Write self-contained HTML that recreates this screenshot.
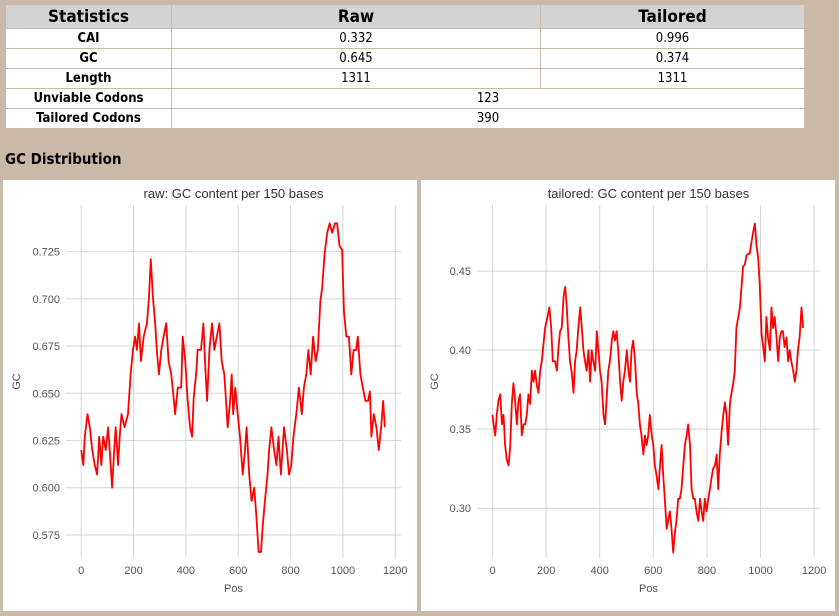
<!DOCTYPE html>
<html><head><meta charset="utf-8"><style>
body{margin:0;width:839px;height:616px;background:#cbb9a8;font-family:"Liberation Sans",sans-serif;position:relative;overflow:hidden}
table{position:absolute;left:5px;top:4px;width:800px;border-collapse:collapse;background:#fff;font-size:13px;font-family:"DejaVu Sans Condensed","DejaVu Sans","Liberation Sans",sans-serif}
td,th{border:1px solid #cbb9a8;text-align:center;padding:0;height:19px}
th{background:#d3d3d3;font-size:17px;height:23px}
td.l{font-weight:bold}
h3{position:absolute;left:5px;top:150px;margin:0;font-size:15px;font-family:"DejaVu Sans Condensed","DejaVu Sans","Liberation Sans",sans-serif}
.panel{position:absolute;top:180px;width:414px;height:431px;background:#fff}
</style></head><body>
<table>
<tr><th style="width:165px">Statistics</th><th style="width:368px">Raw</th><th>Tailored</th></tr>
<tr><td class="l">CAI</td><td>0.332</td><td>0.996</td></tr>
<tr><td class="l">GC</td><td>0.645</td><td>0.374</td></tr>
<tr><td class="l">Length</td><td>1311</td><td>1311</td></tr>
<tr><td class="l">Unviable Codons</td><td colspan="2">123</td></tr>
<tr><td class="l">Tailored Codons</td><td colspan="2">390</td></tr>
</table>
<h3>GC Distribution</h3>
<div class="panel" style="left:3px"><svg id="c1" width="414" height="431"></svg></div>
<div class="panel" style="left:421px"><svg id="c2" width="414" height="431"></svg></div>
<script>
const rawPos=[0,8,14,24,33,42,52,61,69,77,84,94,103,109,118,126,132,141,147,154,166,179,189,198,206,213,221,228,239,251,259,266,274,283,289,297,306,315,325,334,344,353,359,369,382,388,398,407,416,424,430,439,445,458,467,473,481,490,500,509,518,528,537,547,560,569,575,581,589,598,607,617,626,632,642,651,661,670,678,687,693,702,712,718,727,737,746,754,763,775,786,794,803,811,822,832,843,851,860,868,877,886,896,904,914,921,930,940,949,959,970,978,987,997,1004,1013,1023,1032,1041,1051,1057,1067,1076,1086,1096,1103,1109,1118,1128,1137,1146,1154,1160];
const rawGC=[0.620,0.612,0.627,0.639,0.632,0.620,0.612,0.607,0.627,0.612,0.627,0.620,0.632,0.620,0.600,0.620,0.632,0.612,0.627,0.639,0.632,0.639,0.660,0.673,0.680,0.673,0.687,0.667,0.680,0.687,0.701,0.721,0.701,0.687,0.673,0.660,0.673,0.680,0.687,0.667,0.660,0.648,0.639,0.653,0.653,0.680,0.667,0.646,0.632,0.627,0.648,0.660,0.673,0.673,0.687,0.667,0.646,0.673,0.687,0.673,0.680,0.687,0.667,0.660,0.632,0.646,0.660,0.639,0.653,0.639,0.627,0.607,0.620,0.632,0.607,0.593,0.600,0.584,0.566,0.566,0.579,0.593,0.607,0.620,0.632,0.620,0.612,0.627,0.607,0.632,0.620,0.607,0.612,0.627,0.639,0.653,0.639,0.653,0.660,0.673,0.660,0.680,0.667,0.673,0.699,0.706,0.724,0.735,0.740,0.735,0.740,0.740,0.728,0.726,0.694,0.680,0.680,0.660,0.673,0.673,0.680,0.660,0.653,0.646,0.646,0.651,0.627,0.639,0.632,0.620,0.632,0.646,0.632];
const tailPos=[0,4,10,16,22,29,35,41,47,53,60,66,72,78,84,91,97,103,109,116,122,128,134,140,147,153,159,165,171,178,184,190,196,205,212,219,225,233,240,246,252,258,265,271,277,283,289,296,302,308,314,320,327,333,339,345,351,358,364,370,376,383,389,395,401,407,414,420,426,432,438,445,451,457,463,469,476,482,488,494,501,507,513,519,525,532,538,544,550,556,563,569,575,581,587,594,600,606,612,619,625,631,637,643,650,656,662,668,674,681,687,693,699,705,712,718,724,730,737,743,749,755,761,768,774,780,786,792,799,805,811,817,823,830,836,842,848,855,861,867,873,879,886,892,898,904,910,917,923,929,935,941,948,954,960,966,972,979,985,991,997,1004,1010,1016,1022,1028,1035,1041,1047,1053,1059,1066,1072,1078,1084,1090,1097,1103,1109,1115,1122,1128,1134,1140,1146,1153,1159];
const tailGC=[0.359,0.353,0.346,0.359,0.368,0.372,0.353,0.359,0.340,0.331,0.327,0.339,0.366,0.379,0.368,0.353,0.368,0.372,0.346,0.353,0.353,0.359,0.372,0.366,0.387,0.380,0.387,0.378,0.373,0.387,0.393,0.404,0.414,0.421,0.427,0.414,0.393,0.393,0.387,0.402,0.412,0.414,0.434,0.440,0.427,0.408,0.393,0.385,0.373,0.393,0.400,0.414,0.427,0.414,0.400,0.393,0.387,0.400,0.380,0.400,0.393,0.387,0.412,0.400,0.387,0.380,0.359,0.353,0.370,0.387,0.393,0.406,0.412,0.406,0.412,0.400,0.380,0.368,0.380,0.387,0.400,0.387,0.380,0.400,0.406,0.393,0.373,0.366,0.353,0.346,0.334,0.346,0.340,0.346,0.359,0.346,0.340,0.327,0.321,0.312,0.327,0.340,0.321,0.306,0.287,0.293,0.298,0.287,0.272,0.285,0.293,0.306,0.306,0.312,0.327,0.340,0.346,0.353,0.340,0.312,0.306,0.306,0.298,0.292,0.306,0.298,0.292,0.306,0.298,0.306,0.312,0.319,0.325,0.327,0.334,0.312,0.334,0.349,0.359,0.367,0.359,0.340,0.367,0.373,0.379,0.387,0.414,0.421,0.427,0.440,0.453,0.454,0.460,0.461,0.461,0.468,0.474,0.480,0.466,0.459,0.442,0.410,0.402,0.393,0.421,0.408,0.400,0.427,0.414,0.421,0.410,0.393,0.408,0.412,0.412,0.402,0.408,0.393,0.400,0.393,0.387,0.380,0.387,0.400,0.408,0.427,0.414];
const xTicks=[0,200,400,600,800,1000,1200];
const rawYTicks=[0.575,0.600,0.625,0.650,0.675,0.700,0.725];
const tailYTicks=[0.30,0.35,0.40,0.45];
const NS="http://www.w3.org/2000/svg";
function mk(svg,tag,attrs,txt){const e=document.createElementNS(NS,tag);for(const k in attrs)e.setAttribute(k,attrs[k]);if(txt!==undefined)e.textContent=txt;svg.appendChild(e);return e;}
function chart(id,title,pos,gc,yt,ymin,ymax,dec,L,R){
 const svg=document.getElementById(id);
 const T=25,B=378,xmin=-58,xmax=1222;
 const X=v=>L+(v-xmin)/(xmax-xmin)*(R-L), Y=v=>B-(v-ymin)/(ymax-ymin)*(B-T);
 for(const t of xTicks){
  const g=mk(svg,'line',{x1:X(t),x2:X(t),y1:T,y2:B,stroke:'#d6d6d6','stroke-width':1});
  
  
  const l=mk(svg,'text',{x:X(t),y:B+16,'text-anchor':'middle','font-size':11,fill:'#555'},String(t));
  
  
 }
 for(const t of yt){
  const g=mk(svg,'line',{x1:L,x2:R,y1:Y(t),y2:Y(t),stroke:'#d6d6d6','stroke-width':1});
  
  
  const l=mk(svg,'text',{x:L-6,y:Y(t)+4,'text-anchor':'end','font-size':11,fill:'#555'},t.toFixed(dec));
  
  
 }
 const pts=pos.map((p,i)=>X(p).toFixed(1)+','+Y(gc[i]).toFixed(1)).join(' ');
 const pl=mk(svg,'polyline',{points:pts,fill:'none',stroke:'#ff0000','stroke-width':1.8,'stroke-linejoin':'round'});
 
 
 const tt=mk(svg,'text',{x:(L+R)/2,y:18,'text-anchor':'middle','font-size':13,fill:'#333'},title);
 
 
 const xl=mk(svg,'text',{x:(L+R)/2,y:B+34,'text-anchor':'middle','font-size':11,fill:'#555'},'Pos');
 
 
 const yl=mk(svg,'text',{x:0,y:0,'text-anchor':'middle','font-size':11,fill:'#555',transform:'translate(17,'+((T+B)/2)+') rotate(-90)'},'GC');
 
 
}
chart('c1','raw: GC content per 150 bases',rawPos,rawGC,rawYTicks,0.5628,0.7497,3,63,398);
chart('c2','tailored: GC content per 150 bases',tailPos,tailGC,tailYTicks,0.2685,0.4918,2,56,399);
</script>
</body></html>
